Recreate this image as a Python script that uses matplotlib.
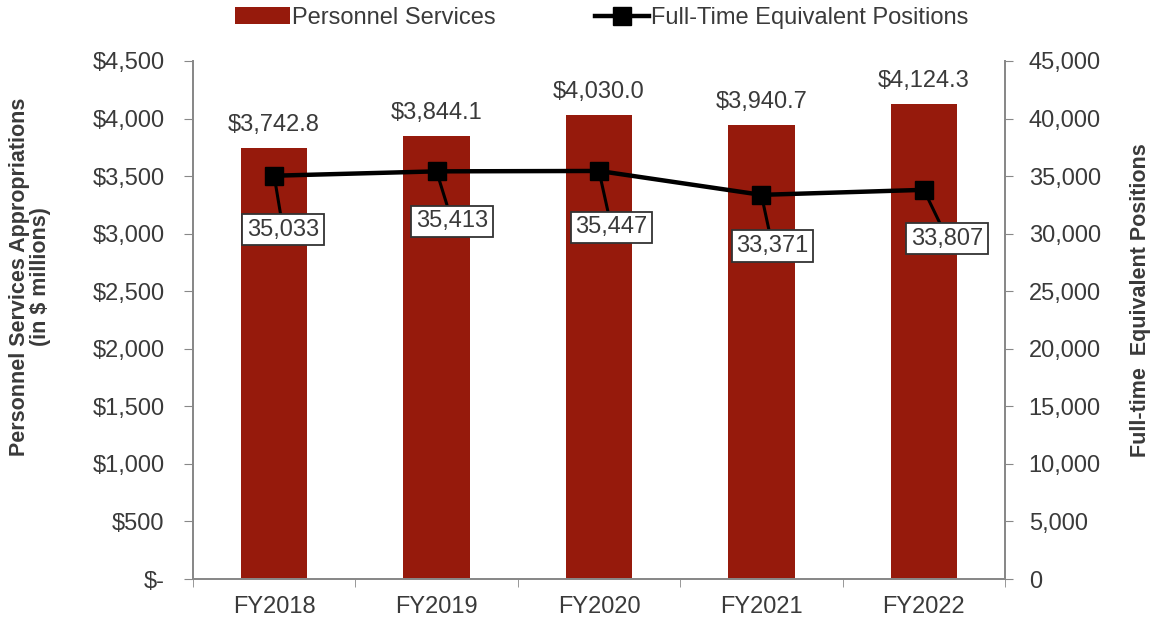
import matplotlib.pyplot as plt
import numpy as np

# chart data
years = ["FY2018", "FY2019", "FY2020", "FY2021", "FY2022"]
appropriations = [3742.8, 3844.1, 4030.0, 3940.7, 4124.3]   # $ millions
fte = [35033, 35413, 35447, 33371, 33807]

plt.rcParams['font.family'] = ['Liberation Sans', 'DejaVu Sans']
txt = '#3a3a3a'
bar_color = '#961a0c'
spine_color = '#888888'
fs = 17

fig = plt.figure(figsize=(11.54, 6.21), dpi=100)
ax = fig.add_axes([0.1672, 0.0676, 0.7037, 0.8342])
ax2 = ax.twinx()

x = np.arange(len(years))
bars = ax.bar(x, appropriations, width=0.41, color=bar_color, zorder=2,
              label="Personnel Services")
ax.set_xlim(-0.5, len(years) - 0.5)
ax.set_ylim(0, 4500)
ax.set_yticks(np.arange(0, 4501, 500))
ax.set_yticklabels(["$-"] + [f"${v:,}" for v in range(500, 4501, 500)])
ax.set_xticks(x)
ax.set_xticklabels(years)
ax.set_xticks(np.arange(-0.5, len(years)), minor=True)
ax.tick_params(axis='x', which='major', length=0, pad=12)
ax.tick_params(axis='x', which='minor', length=6, color=spine_color)
ax.tick_params(axis='y', length=6.5, color=spine_color, pad=14)
ax.tick_params(labelsize=fs, labelcolor=txt)

for b, v in zip(bars, appropriations):
    ax.annotate(f"${v:,.1f}", (b.get_x() + b.get_width() / 2, v),
                xytext=(0, 12), textcoords='offset pixels',
                ha='center', va='bottom', fontsize=fs, color=txt)

ax.set_ylabel("Personnel Services Appropriations\n(in $ millions)",
              fontsize=15.5, fontweight='bold', color=txt,
              ha='center', va='center', linespacing=1.0)
ax.yaxis.set_label_coords(-0.2007, 0.583)

ax2.set_ylim(0, 45000)
ax2.set_yticks(np.arange(0, 45001, 5000))
ax2.set_yticklabels([f"{v:,}" for v in range(0, 45001, 5000)])
ax2.tick_params(axis='y', length=6, color=spine_color, labelsize=fs,
                labelcolor=txt, pad=11)
line, = ax2.plot(x, fte, color='black', lw=3.2, marker='s', markersize=13,
                 label="Full-Time Equivalent Positions", zorder=3)
ax2.set_ylabel("Full-time  Equivalent Positions", fontsize=15.5,
               fontweight='bold', color=txt, ha='center', va='center')
ax2.yaxis.set_label_coords(1.1663, 0.539)

# label boxes offsets (pixels) from each marker
offsets = [(9, -54), (15.5, -50), (12.5, -56.5), (11, -51), (23.5, -48.7)]
for xi, v, off in zip(x, fte, offsets):
    ax2.annotate(f"{v:,}", (xi, v), xytext=off, textcoords='offset pixels',
                 ha='center', va='center', fontsize=fs, color=txt,
                 bbox=dict(boxstyle='square,pad=0.2', fc='white', ec='#333333', lw=1.3),
                 arrowprops=dict(arrowstyle='-', color='black', lw=2.2,
                                 shrinkA=0, shrinkB=0))

for a in (ax, ax2):
    a.spines['top'].set_visible(False)
    for s in ('left', 'right', 'bottom'):
        a.spines[s].set_color(spine_color)
        a.spines[s].set_linewidth(1.3)

fig.legend([bars, line], ["Personnel Services", "Full-Time Equivalent Positions"],
           loc='center', bbox_to_anchor=(0.5217, 0.971), ncol=2, frameon=False,
           fontsize=fs, labelcolor=txt, handlelength=2.3, handletextpad=0.1,
           columnspacing=4.2, borderpad=0, borderaxespad=0)

fig.savefig("out.png", dpi=100)
